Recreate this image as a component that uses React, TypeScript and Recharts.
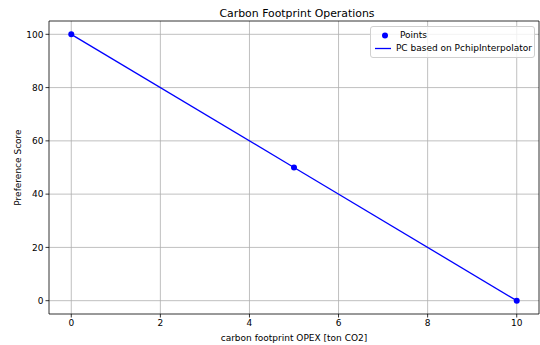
import {
  ComposedChart,
  Line,
  Scatter,
  XAxis,
  YAxis,
  CartesianGrid,
  ReferenceArea,
  Label,
} from 'recharts';

const opex = [0, 5, 10];
const score = [100, 50, 0];
const xTicks = [0, 2, 4, 6, 8, 10];
const yTicks = [0, 20, 40, 60, 80, 100];

const points = opex.map((x, i) => ({ x, y: score[i] }));

const FONT = '"DejaVu Sans", sans-serif';
const BLUE = '#0000ff';

function PlotLegend() {
  return (
    <div
      style={{
        position: 'absolute',
        left: 370,
        top: 26,
        width: 165,
        boxSizing: 'border-box',
        whiteSpace: 'nowrap',
        border: '1px solid #d0d0d0',
        borderRadius: 3,
        background: 'rgba(255,255,255,0.8)',
        fontFamily: FONT,
        fontSize: 9,
        color: '#000',
        padding: '2px 2px 2px 2px',
        lineHeight: '13px',
      }}
    >
      <div style={{ display: 'flex', alignItems: 'center' }}>
        <svg width={22} height={13}>
          <circle cx={12} cy={6.5} r={3} fill={BLUE} />
        </svg>
        <span style={{ marginLeft: 5 }}>Points</span>
      </div>
      <div style={{ display: 'flex', alignItems: 'center' }}>
        <svg width={22} height={13}>
          <line x1={2} x2={22} y1={6.5} y2={6.5} stroke={BLUE} strokeWidth={1.3} />
        </svg>
        <span style={{ marginLeft: 5 }}>PC based on PchipInterpolator</span>
      </div>
    </div>
  );
}

export default function App() {
  return (
    <div style={{ position: 'absolute', left: 0, top: 0, width: 540, height: 345, background: '#fff' }}>
      <ComposedChart
        width={540}
        height={345}
        data={points}
        margin={{ top: 21, right: 1, bottom: 11, left: 9 }}
        style={{ position: 'absolute', left: 0, top: 0 }}
      >
        <text x={297} y={17} textAnchor="middle" fontFamily={FONT} fontSize={10.9} fill="#000">
          Carbon Footprint Operations
        </text>
        <CartesianGrid stroke="#b0b0b0" strokeWidth={0.8} horizontalValues={yTicks} verticalValues={xTicks} />
        <XAxis
          type="number"
          dataKey="x"
          domain={[-0.5, 10.5]}
          ticks={xTicks}
          height={20}
          axisLine={false}
          tickSize={3.5}
          tickLine={{ stroke: '#000', strokeWidth: 0.8 }}
          tick={{ fill: '#000', fontSize: 9, fontFamily: FONT }}
          allowDataOverflow
        >
          <Label
            value="carbon footprint OPEX [ton CO2]"
            position="insideBottom"
            offset={-7}
            style={{ fill: '#000', fontSize: 9, fontFamily: FONT }}
          />
        </XAxis>
        <YAxis
          type="number"
          dataKey="y"
          domain={[-5, 105]}
          ticks={yTicks}
          width={40}
          axisLine={false}
          tickSize={3.5}
          tickLine={{ stroke: '#000', strokeWidth: 0.8 }}
          tick={{ fill: '#000', fontSize: 9, fontFamily: FONT }}
          allowDataOverflow
        >
          <Label
            value="Preference Score"
            angle={-90}
            position="insideLeft"
            offset={9}
            style={{ fill: '#000', fontSize: 9, fontFamily: FONT, textAnchor: 'middle' }}
          />
        </YAxis>
        <ReferenceArea
          x1={-0.5}
          x2={10.5}
          y1={-5}
          y2={105}
          fill="none"
          stroke="#000"
          strokeWidth={0.8}
          ifOverflow="visible"
        />
        <Line
          type="linear"
          dataKey="y"
          stroke={BLUE}
          strokeWidth={1.3}
          dot={false}
          activeDot={false}
          isAnimationActive={false}
        />
        <Scatter
          data={points}
          dataKey="y"
          fill={BLUE}
          shape={(p: any) => <circle cx={p.cx} cy={p.cy} r={3} fill={BLUE} />}
          isAnimationActive={false}
        />
      </ComposedChart>
      <PlotLegend />
    </div>
  );
}
